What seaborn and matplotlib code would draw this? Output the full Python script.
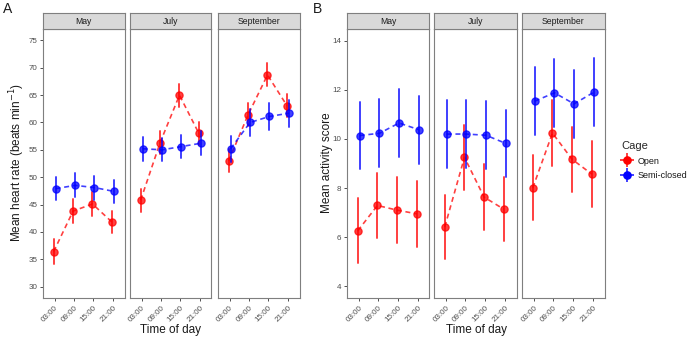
import numpy as np
import pandas as pd
import matplotlib
matplotlib.use("Agg")
import matplotlib.pyplot as plt
from matplotlib.lines import Line2D
import seaborn as sns

sns.set_style("white")
plt.rcParams['font.family'] = ['Liberation Sans', 'DejaVu Sans']

months = ["May", "July", "September"]
times = ["03:00", "09:00", "15:00", "21:00"]
cages = ["Open", "Semi-closed"]

# Heart rate (panel A): mean and half-width of error bar
hr_open = {"May": [36.4, 43.8, 45.1, 41.8],
           "July": [45.8, 56.3, 65.0, 58.0],
           "September": [53.0, 61.4, 68.7, 63.1]}
hr_open_err = {"May": [2.3, 2.2, 2.2, 2.1],
               "July": [2.1, 2.1, 2.1, 2.1],
               "September": [2.1, 2.1, 2.1, 2.1]}
hr_semi = {"May": [47.9, 48.5, 48.1, 47.4],
           "July": [55.2, 55.0, 55.6, 56.2],
           "September": [55.2, 60.0, 61.1, 61.7]}
hr_semi_err = {"May": [2.1, 2.2, 2.2, 2.1],
               "July": [2.2, 2.1, 2.1, 2.2],
               "September": [2.4, 2.5, 2.5, 2.5]}

# Activity score (panel B)
act_open = {"May": [6.26, 7.29, 7.10, 6.95],
            "July": [6.42, 9.25, 7.63, 7.14],
            "September": [8.01, 10.24, 9.17, 8.57]}
act_open_err = {"May": [1.33, 1.33, 1.33, 1.35],
                "July": [1.30, 1.33, 1.33, 1.30],
                "September": [1.33, 1.35, 1.33, 1.33]}
act_semi = {"May": [10.14, 10.23, 10.65, 10.38],
            "July": [10.20, 10.20, 10.15, 9.82],
            "September": [11.54, 11.88, 11.43, 11.90]}
act_semi_err = {"May": [1.38, 1.38, 1.38, 1.38],
                "July": [1.38, 1.38, 1.38, 1.38],
                "September": [1.38, 1.38, 1.38, 1.38]}

palette = {"Open": "#FF0000", "Semi-closed": "#0000FF"}


def build_df(op, ope, se, see):
    rows = []
    for m in months:
        for i, t in enumerate(times):
            for cage, mean, err in (("Open", op[m][i], ope[m][i]),
                                    ("Semi-closed", se[m][i], see[m][i])):
                for v in (mean - err, mean, mean + err):
                    rows.append({"month": m, "time": t, "cage": cage, "value": v})
    return pd.DataFrame(rows)


df_hr = build_df(hr_open, hr_open_err, hr_semi, hr_semi_err)
df_act = build_df(act_open, act_open_err, act_semi, act_semi_err)

W, H = 692, 339
fig = plt.figure(figsize=(W / 100, H / 100), dpi=100)

grey_txt = "#4d4d4d"
border = "#7f7f7f"


def fx(px):
    return px / W


def fy(py):
    return 1 - py / H


def draw_group(df, lefts, width, ylim, yticks, xcenter):
    top_px, bot_px, strip_top = 29, 298, 13
    for k, (m, lx) in enumerate(zip(months, lefts)):
        ax = fig.add_axes([fx(lx), fy(bot_px), fx(width), (bot_px - top_px) / H])
        sub = df[df["month"] == m]
        sns.pointplot(data=sub, x="time", y="value", hue="cage", order=times,
                      hue_order=cages, palette=palette, dodge=0.1,
                      errorbar=lambda x: (x.min(), x.max()),
                      linestyles="--", markers="o", markersize=5.2,
                      linewidth=1.2, err_kws={"linewidth": 1.4, "alpha": 0.75},
                      ax=ax, legend=False)
        for ln in ax.lines:
            if ln.get_linestyle() == "--":
                ln.set_alpha(0.75)
                ln.set_dashes([3, 2.2])
        ax.set_xlim(-0.6, 3.6)
        ax.set_ylim(*ylim)
        ax.set_yticks(yticks)
        ax.set_xlabel("")
        ax.set_ylabel("")
        for s in ax.spines.values():
            s.set_color(border)
            s.set_linewidth(0.8)
        ax.tick_params(axis="both", which="both", length=2.5, width=0.6,
                       color="#333333", labelsize=5.8, labelcolor=grey_txt, pad=1.5)
        ax.set_xticks(range(len(times)))
        ax.set_xticklabels(times, rotation=45, ha="right", va="top",
                           rotation_mode="anchor")
        ax.tick_params(axis="x", bottom=True, pad=2)
        if k == 0:
            ax.tick_params(axis="y", left=True)
            ax.set_yticklabels([str(v) for v in yticks])
        else:
            ax.tick_params(axis="y", left=False, labelleft=False)
        ax.grid(False)
        # strip
        sax = fig.add_axes([fx(lx), fy(top_px), fx(width), (top_px - strip_top) / H])
        sax.set_facecolor("#d9d9d9")
        sax.set_xticks([])
        sax.set_yticks([])
        for s in sax.spines.values():
            s.set_color(border)
            s.set_linewidth(0.8)
        sax.text(0.5, 0.5, m, ha="center", va="center", fontsize=6.2,
                 color="#1a1a1a", transform=sax.transAxes)
    fig.text(fx(xcenter), fy(330), "Time of day", ha="center", va="center",
             fontsize=8.5, color="#1a1a1a")


draw_group(df_hr, [43, 130, 218], 81.5, (27.9, 77.1), list(range(30, 80, 5)), 171)
draw_group(df_act, [347, 434, 522], 82.5, (3.52, 14.48), [4, 6, 8, 10, 12, 14], 476)

fig.text(fx(17), fy(163), "Mean heart rate (beats min$^{-1}$)", rotation=90,
         ha="center", va="center", fontsize=8.5, color="#1a1a1a")
fig.text(fx(327), fy(163), "Mean activity score", rotation=90,
         ha="center", va="center", fontsize=8.5, color="#1a1a1a")
fig.text(fx(3), fy(9), "A", ha="left", va="center", fontsize=10, color="#1a1a1a")
fig.text(fx(313), fy(9), "B", ha="left", va="center", fontsize=10, color="#1a1a1a")

# legend
handles = []
for c in cages:
    col = palette[c]
    h = (Line2D([], [], color=col, marker="|", markersize=10, linestyle="none",
                markeredgewidth=1.3, alpha=0.8),
         Line2D([], [], color=col, marker="_", markersize=10, linestyle="none",
                markeredgewidth=1.3, alpha=0.8),
         Line2D([], [], color=col, marker="o", markersize=5.2, linestyle="none"))
    handles.append(h)
leg = fig.legend(handles, cages, title="Cage", loc="upper left",
                 bbox_to_anchor=(fx(613), fy(133)), frameon=False, fontsize=6.5,
                 title_fontsize=8, handlelength=1.2, handletextpad=0.6,
                 labelspacing=0.6)
leg._legend_box.align = "left"
for t in leg.get_texts():
    t.set_color("#1a1a1a")

fig.savefig("out.png", dpi=100)
